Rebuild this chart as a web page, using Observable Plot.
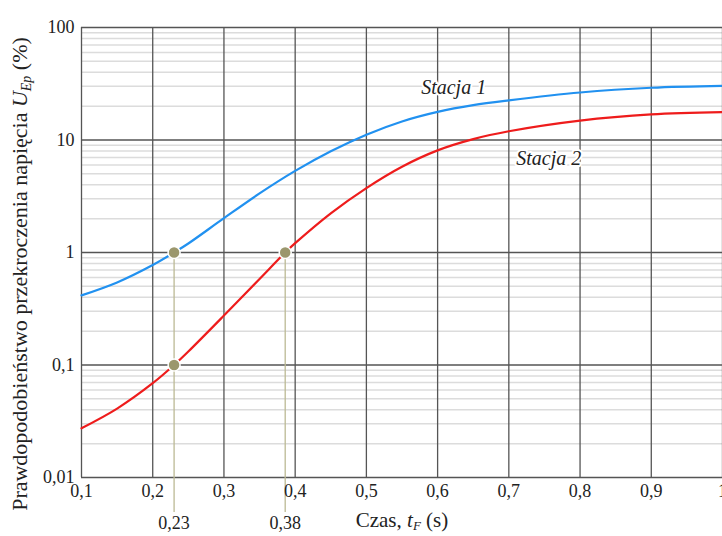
<!DOCTYPE html>
<html>
<head>
<meta charset="utf-8">
<script src="https://cdn.jsdelivr.net/npm/d3@7"></script>
<script src="https://cdn.jsdelivr.net/npm/@observablehq/plot@0.6"></script>
<style>
  html, body { margin: 0; padding: 0; background: #fff; }
</style>
</head>
<body>
<div id="chart"></div>
<script>
// Stacja 1 (blue)
const s1X = [0.1, 0.15, 0.2, 0.23, 0.25, 0.3, 0.35, 0.4, 0.45, 0.5, 0.55, 0.6, 0.65, 0.7, 0.8, 0.9, 1.0];
const s1Y = [0.416, 0.542, 0.774, 1.0, 1.202, 2.018, 3.35, 5.31, 7.94, 11.15, 14.62, 17.78, 20.42, 22.51, 26.45, 29.14, 30.30];
// Stacja 2 (red)
const s2X = [0.1, 0.15, 0.2, 0.23, 0.25, 0.3, 0.35, 0.386, 0.4, 0.45, 0.5, 0.55, 0.6, 0.65, 0.7, 0.8, 0.9, 1.0];
const s2Y = [0.0274, 0.0410, 0.0689, 0.1, 0.1318, 0.275, 0.582, 1.0, 1.21, 2.23, 3.74, 5.79, 8.09, 10.18, 11.96, 14.88, 16.89, 17.69];
// marked points
const markX = [0.23, 0.23, 0.386];
const markY = [1, 0.1, 1];
const dropX = [0.23, 0.386];
const dropTop = [1, 1];
const dropLabels = ["0,23", "0,38"];
// ticks
const xTicks = [0.1, 0.2, 0.3, 0.4, 0.5, 0.6, 0.7, 0.8, 0.9, 1.0];
const yTicks = [0.01, 0.1, 1, 10, 100];
const minorMult = [2, 3, 4, 5, 6, 7, 8, 9];
// series labels
const seriesNames = ["Stacja 1", "Stacja 2"];
const seriesLabelX = [0.6225, 0.756];
const seriesLabelY = [29.3, 6.81];

const minorY = [];
for (const d of yTicks.slice(0, -1)) for (const m of minorMult) minorY.push(+(d * m).toPrecision(3));

const fmt = v => String(+v.toPrecision(3)).replace(".", ",");

const s1 = s1X.map((x, i) => ({x, y: s1Y[i]}));
const s2 = s2X.map((x, i) => ({x, y: s2Y[i]}));
const marks = markX.map((x, i) => ({x, y: markY[i]}));
const drops = dropX.map((x, i) => ({x, top: dropTop[i], label: dropLabels[i]}));
const names = seriesNames.map((n, i) => ({n, x: seriesLabelX[i], y: seriesLabelY[i]}));

const svg = Plot.plot({
  width: 722,
  height: 536,
  marginLeft: 81,
  marginRight: 0,
  marginTop: 27,
  marginBottom: 59,
  style: {fontFamily: "'Liberation Serif', 'DejaVu Serif', serif", fontSize: "18px", color: "#222", background: "#fff", overflow: "visible"},
  x: {domain: [0.1, 1.0]},
  y: {type: "log", domain: [0.01, 100]},
  marks: [
    Plot.ruleY(minorY, {stroke: "#dcdcdc", strokeWidth: 1.5}),
    Plot.ruleX(xTicks, {stroke: "#555", strokeWidth: 1.3}),
    Plot.ruleY(yTicks, {stroke: "#555", strokeWidth: 1.3}),
    Plot.ruleX(drops, {x: "x", y1: "top", y2: 0.01, insetBottom: -35, stroke: "#bcb994", strokeWidth: 1.3}),
    Plot.text(drops, {x: "x", y: 0.01, text: "label", dy: 46, fontSize: 18, fill: "#222"}),
    Plot.line(s1, {x: "x", y: "y", curve: "catmull-rom", stroke: "#2191f0", strokeWidth: 2.2}),
    Plot.line(s2, {x: "x", y: "y", curve: "catmull-rom", stroke: "#ee1c1c", strokeWidth: 2.2}),
    Plot.dot(marks, {x: "x", y: "y", r: 6, fill: "#9b976d", stroke: "#fff", strokeWidth: 1.5}),
    Plot.text(names, {x: "x", y: "y", text: "n", fontStyle: "italic", fontSize: 20, fill: "#222", stroke: "#fff", strokeWidth: 4}),
    Plot.axisX(xTicks, {tickSize: 0, tickPadding: 7, tickFormat: fmt, label: null, fontSize: 18}),
    Plot.axisY(yTicks, {tickSize: 0, tickPadding: 7, tickFormat: fmt, label: null, fontSize: 18})
  ]
});

const sel = d3.select(svg);
const yl = sel.append("text")
  .attr("transform", "translate(27,274) rotate(-90)")
  .attr("text-anchor", "middle")
  .attr("fill", "#222")
  .style("font-size", "22px");
yl.append("tspan").text("Prawdopodobieństwo przekroczenia napięcia ");
yl.append("tspan").attr("font-style", "italic").text("U");
yl.append("tspan").attr("font-style", "italic").attr("font-size", "14px").attr("dy", 4).text("Ep");
yl.append("tspan").attr("dy", -4).text(" (%)");

const xl = sel.append("text")
  .attr("x", 402).attr("y", 527)
  .attr("text-anchor", "middle")
  .attr("fill", "#222")
  .style("font-size", "21px");
xl.append("tspan").text("Czas, ");
xl.append("tspan").attr("font-style", "italic").text("t");
xl.append("tspan").attr("font-style", "italic").attr("font-size", "13px").attr("dy", 3).text("F");
xl.append("tspan").attr("dy", -3).text(" (s)");

document.getElementById("chart").appendChild(svg);
</script>
</body>
</html>
